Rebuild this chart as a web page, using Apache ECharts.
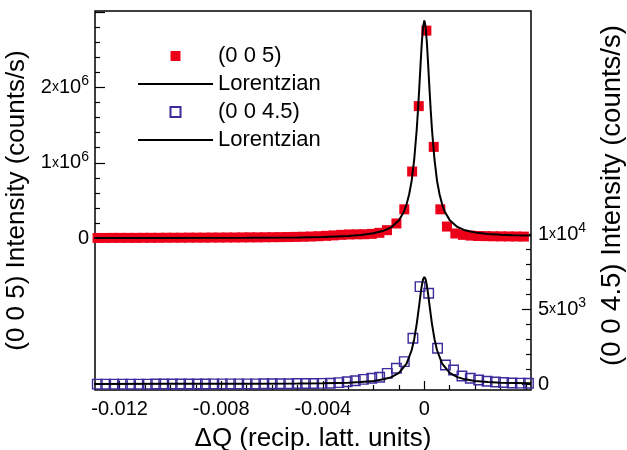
<!DOCTYPE html>
<html>
<head>
<meta charset="utf-8">
<script src="https://cdn.jsdelivr.net/npm/echarts@6/dist/echarts.min.js"></script>
<style>html,body{margin:0;padding:0;background:#fff}#c{width:627px;height:450px}</style>
</head>
<body>
<div id="c"></div>
<script>
// ---- data ----
// (0 0 5) measured points: x in recip. latt. units, y in counts/s
const x005 = [-0.01287,-0.01257,-0.01227,-0.01197,-0.01167,-0.01137,-0.01107,-0.01077,-0.01047,-0.01017,
  -0.00987,-0.00957,-0.00927,-0.00897,-0.00867,-0.00837,-0.00807,-0.00777,-0.00747,-0.00717,
  -0.00687,-0.00657,-0.00627,-0.00597,-0.00567,-0.00537,-0.00507,-0.00477,-0.00447,-0.00417,
  -0.00387,-0.00357,-0.00327,-0.00297,-0.00267,-0.00237,-0.00207,-0.00177,-0.00147,
  -0.0011,-0.00079,-0.00048,-0.00022,0.00008,0.00037,0.00063,0.00089,0.00122,
  0.00152,0.00182,0.00212,0.00242,0.00272,0.00302,0.00332,0.00362,0.00392];
const y005 = [4000,4000,5000,5000,5000,5000,6000,6000,6000,7000,
  7000,7000,8000,8000,8000,9000,9000,10000,10000,11000,
  12000,12000,13000,14000,15000,16000,18000,20000,23000,27000,
  32000,38000,45000,50000,52000,53000,58000,72000,107000,
  196000,383000,884000,1750000,2750000,1210000,383000,155000,63000,
  45000,35000,30000,28000,26000,25000,24000,23000,22000];
// Lorentzian fit line for (0 0 5)
const xFit005 = [-0.013,-0.01,-0.007,-0.005,-0.004,-0.003,-0.0025,-0.002,-0.0016,-0.0013,-0.001,-0.0008,-0.0007,-0.0006,-0.0005,-0.0004,-0.0003,-0.00025,-0.0002,-0.00015,-0.0001,-0.00005,0,
  0.00005,0.0001,0.00015,0.0002,0.00025,0.0003,0.0004,0.0005,0.0006,0.0007,0.0008,0.001,0.0013,0.0016,0.002,0.0025,0.003,0.0035,0.0042];
const yFit005 = [2000,3000,6000,11000,17000,30000,43000,65000,100000,145000,238000,355000,450000,580000,760000,1040000,1440000,1700000,1990000,2300000,2590000,2800000,2884000,
  2800000,2590000,2300000,1990000,1700000,1440000,1040000,760000,580000,450000,355000,240000,150000,105000,75000,55000,45000,40000,36000];
// (0 0 4.5) measured points
const x0045 = [-0.01288,-0.01255,-0.01222,-0.01189,-0.01157,-0.01124,-0.01091,-0.01058,-0.01026,-0.00993,
  -0.0096,-0.00927,-0.00894,-0.00862,-0.00829,-0.00796,-0.00763,-0.00731,-0.00698,-0.00665,
  -0.00632,-0.00599,-0.00567,-0.00534,-0.00501,-0.00468,-0.00436,-0.00403,
  -0.0037,-0.00337,-0.00304,-0.00272,-0.0024,-0.00207,-0.00176,-0.00146,-0.0011,-0.00079,-0.00045,-0.00017,
  0.00017,0.00052,0.00083,0.00115,0.00148,0.00181,0.00214,0.00247,0.0028,0.00312,0.00345,0.00378,0.0041];
const y0045 = [10,10,10,10,10,10,10,20,20,20,
  20,20,20,20,30,30,30,30,30,30,
  40,40,40,40,50,50,50,60,
  70,110,170,240,330,400,470,730,1070,1510,3070,6510,
  6070,2400,1290,950,550,400,290,200,150,120,90,80,70];
// Lorentzian fit line for (0 0 4.5)
const xFit0045 = [-0.013,-0.01,-0.007,-0.005,-0.004,-0.003,-0.0025,-0.002,-0.0016,-0.0013,-0.001,-0.0007,-0.0005,-0.0004,-0.0003,-0.0002,-0.00015,-0.0001,-0.00005,0,
  0.00005,0.0001,0.00015,0.0002,0.0003,0.0004,0.0005,0.0007,0.001,0.0013,0.0016,0.002,0.0025,0.003,0.0042];
const yFit0045 = [25,30,40,50,70,110,150,220,330,480,760,1380,2270,3010,4030,5320,5990,6580,7000,7150,
  7000,6580,5990,5320,4030,3010,2270,1380,760,480,330,220,150,110,70];
// axis ticks
const xMajorTicks = [-0.012,-0.008,-0.004,0];
const xMinorTicks = [-0.011,-0.010,-0.009,-0.007,-0.006,-0.005,-0.003,-0.002,-0.001,0.001,0.002,0.003,0.004];
const leftMajorTicks = [0,1000000,2000000,3000000];
const leftLabels = [0,1000000,2000000];
const leftMinorTicks = [200000,400000,600000,800000,1200000,1400000,1600000,1800000,2200000,2400000,2600000,2800000];
const rightMajorTicks = [0,5000,10000];
const rightLabels = [0,5000,10000];
const rightMinorTicks = [1000,2000,3000,4000,6000,7000,8000,9000];

const FONT = '"Liberation Sans", Arial, Helvetica, sans-serif';
const pair = (xs, ys) => xs.map((x, i) => [x, ys[i]]);
const LMIN = -2010000, LMAX = 3010000, RMIN = -380, RMAX = 24890;
const RED = '#ec0019', BLUE = '#3b2c9c';
const rich = {
  a: {fontSize: 20, fontFamily: FONT, color: '#000'},
  x: {fontSize: 14, fontFamily: FONT, color: '#000'},
  s: {fontSize: 14, fontFamily: FONT, color: '#000', padding: [0, 0, 12, 0]}
};
function sciFmt(v) {
  if (v === 0) return '{a|0}';
  const e = Math.floor(Math.log10(v) + 1e-9);
  const m = Math.round(v / Math.pow(10, e));
  return '{a|' + m + '}{x|x}{a|10}{s|' + e + '}';
}
const noLine = {show: false, onZero: false};
const tickStyle = {color: '#000', width: 1.2};
const SQUARE = 'path://M0,0L10,0L10,10L0,10Z';
const BAR = 'path://M0,0L75,0L75,2L0,2Z';
const chart = echarts.init(document.getElementById('c'), null, {renderer: 'canvas'});
chart.setOption({
  animation: false,
  backgroundColor: '#fff',
  grid: {left: 95, right: 96, top: 11, bottom: 60, show: true, borderColor: '#000', borderWidth: 1.5,
         containLabel: false, outerBoundsMode: 'none'},
  legend: {
    orient: 'vertical', left: 133, top: 40, itemWidth: 75, itemHeight: 10, itemGap: 6,
    symbolKeepAspect: true,
    textStyle: {fontSize: 22, lineHeight: 22, color: '#000', fontFamily: FONT},
    data: [
      {name: '(0 0 5)', icon: SQUARE},
      {name: 'Lorentzian', icon: BAR},
      {name: '(0 0 4.5)', icon: SQUARE},
      {name: 'Lorentzian ', icon: BAR}
    ],
    selectedMode: false
  },
  xAxis: [
    {type: 'value', min: -0.01297, max: 0.0042, axisLine: noLine, splitLine: {show: false},
     axisTick: {show: true, inside: true, length: 9, customValues: xMajorTicks, lineStyle: tickStyle},
     axisLabel: {customValues: xMajorTicks, margin: 9, fontSize: 20, fontFamily: FONT, color: '#000',
       formatter: v => (Math.abs(v) < 1e-12 ? '0' : v.toFixed(3))},
     name: 'ΔQ (recip. latt. units)', nameLocation: 'middle', nameGap: 36,
     nameTextStyle: {fontSize: 26, fontFamily: FONT, color: '#000'}},
    {type: 'value', min: -0.01297, max: 0.0042, axisLine: noLine, splitLine: {show: false},
     axisTick: {show: true, inside: true, length: 5, customValues: xMinorTicks, lineStyle: tickStyle},
     axisLabel: {show: false}, position: 'bottom'}
  ],
  yAxis: [
    {type: 'value', min: LMIN, max: LMAX, position: 'left', axisLine: noLine, splitLine: {show: false},
     axisTick: {show: true, inside: true, length: 10, customValues: leftMajorTicks, lineStyle: tickStyle},
     axisLabel: {customValues: leftLabels, margin: 6, formatter: sciFmt, rich: rich},
     name: '(0 0 5) Intensity (counts/s)', nameLocation: 'middle', nameGap: 58, nameRotate: 90,
     nameTextStyle: {fontSize: 26, fontFamily: FONT, color: '#000'}},
    {type: 'value', min: RMIN, max: RMAX, position: 'right', axisLine: noLine, splitLine: {show: false},
     axisTick: {show: true, inside: true, length: 9, customValues: rightMajorTicks, lineStyle: tickStyle},
     axisLabel: {customValues: rightLabels, margin: 7, formatter: sciFmt, rich: rich},
     name: '(0 0 4.5) Intensity (counts/s)', nameLocation: 'middle', nameGap: 67, nameRotate: 90,
     nameTextStyle: {fontSize: 27.5, fontFamily: FONT, color: '#000', padding: [0, 0, 0, 10]}},
    {type: 'value', min: LMIN, max: LMAX, position: 'left', axisLine: noLine, splitLine: {show: false},
     axisTick: {show: true, inside: true, length: 5, customValues: leftMinorTicks, lineStyle: tickStyle},
     axisLabel: {show: false}},
    {type: 'value', min: RMIN, max: RMAX, position: 'right', axisLine: noLine, splitLine: {show: false},
     axisTick: {show: true, inside: true, length: 5, customValues: rightMinorTicks, lineStyle: tickStyle},
     axisLabel: {show: false}}
  ],
  series: [
    {type: 'scatter', name: '(0 0 5)', yAxisIndex: 0, data: pair(x005, y005), symbol: 'rect', symbolSize: 10,
     itemStyle: {color: RED, opacity: 1}, z: 2},
    {type: 'line', name: 'Lorentzian', yAxisIndex: 0, data: pair(xFit005, yFit005), showSymbol: false, symbol: 'none',
     lineStyle: {color: '#000', width: 2}, itemStyle: {color: '#000'}, z: 4},
    {type: 'scatter', name: '(0 0 4.5)', yAxisIndex: 1, data: pair(x0045, y0045), symbol: 'rect', symbolSize: 9.5,
     itemStyle: {color: 'rgba(255,255,255,0)', borderColor: BLUE, borderWidth: 1.4, opacity: 1}, z: 3},
    {type: 'line', name: 'Lorentzian ', yAxisIndex: 1, data: pair(xFit0045, yFit0045), showSymbol: false, symbol: 'none',
     lineStyle: {color: '#000', width: 2}, itemStyle: {color: '#000'}, z: 4}
  ]
});
</script>
</body>
</html>
